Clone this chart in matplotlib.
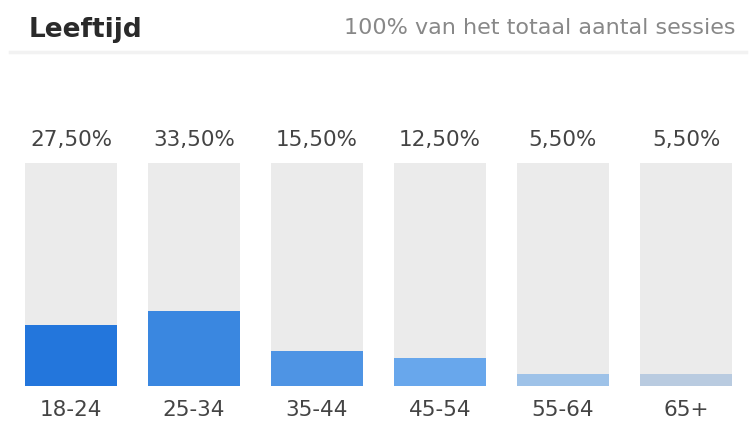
import matplotlib
matplotlib.use("Agg")
import matplotlib.pyplot as plt

categories = ["18-24", "25-34", "35-44", "45-54", "55-64", "65+"]
values = [27.5, 33.5, 15.5, 12.5, 5.5, 5.5]
labels = ["27,50%", "33,50%", "15,50%", "12,50%", "5,50%", "5,50%"]
colors = ["#2376dc", "#3a87e0", "#4e94e4", "#68a7ec", "#9ec2e8", "#b9cbe0"]

W, H = 756, 421
fig = plt.figure(figsize=(W / 100, H / 100), dpi=100)
fig.patch.set_facecolor("white")

ax = fig.add_axes([0, 35 / H, 1, 223 / H])
x = list(range(len(categories)))
ax.bar(x, [100] * len(x), width=0.755, color="#ebebeb", zorder=1)
ax.bar(x, values, width=0.755, color=colors, zorder=2)
ax.set_xlim(-71 / 123, (756 - 71) / 123)
ax.set_ylim(0, 100)
ax.axis("off")

for xi, lab, cat in zip(x, labels, categories):
    ax.text(xi, 110.3, lab, ha="center", va="center", fontsize=15.5,
            color="#444444", clip_on=False)
    ax.text(xi, -10.8, cat, ha="center", va="center", fontsize=15.5,
            color="#444444", clip_on=False)

fig.text(29 / W, 1 - 30 / H, "Leeftijd", ha="left", va="center",
         fontsize=19, fontweight="bold", color="#2a2a2a")
fig.text(736 / W, 1 - 28 / H, "100% van het totaal aantal sessies",
         ha="right", va="center", fontsize=16, color="#888888")
fig.add_artist(plt.Line2D([10 / W, 746 / W], [1 - 52 / H, 1 - 52 / H],
                          color="#f2f2f2", linewidth=2.5))

fig.savefig("out.png", dpi=100, facecolor="white")
